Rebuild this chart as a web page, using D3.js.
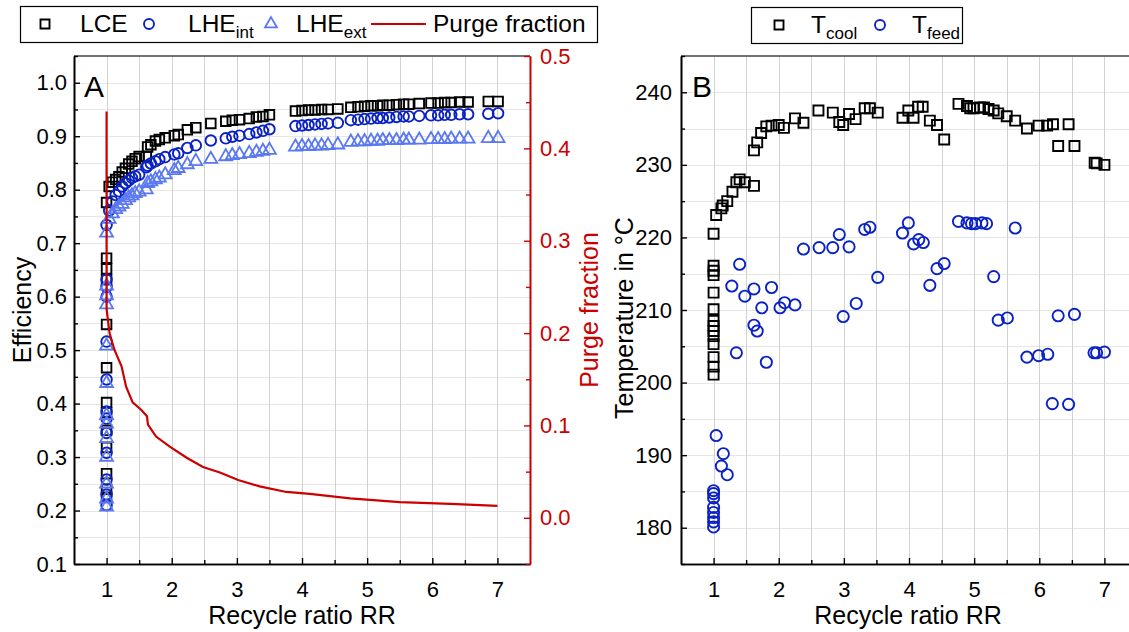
<!DOCTYPE html>
<html>
<head>
<meta charset="utf-8">
<script src="https://cdn.jsdelivr.net/npm/d3@7"></script>
<style>
  html, body { margin: 0; padding: 0; background: #fff; }
  svg { display: block; font-family: "Liberation Sans", Arial, sans-serif; }
</style>
</head>
<body>
<svg id="chart" width="1129" height="632"></svg>
<script>
// ---------- Panel A: efficiencies and purge fraction vs. recycle ratio ----------
const rrA = [
  1.0, 1.0, 1.0, 1.0, 1.0, 1.0, 1.0, 1.0, 1.0, 1.0, 1.0, 1.0,
  1.0, 1.04, 1.09, 1.14, 1.19, 1.24, 1.29, 1.34, 1.39, 1.44,
  1.5, 1.61, 1.63, 1.68, 1.75, 1.81, 1.9, 2.04, 2.1, 2.24,
  2.37, 2.6, 2.83, 2.93, 3.04, 3.19, 3.3, 3.4, 3.5, 3.9,
  4.0, 4.1, 4.2, 4.3, 4.4, 4.55, 4.75, 4.86, 4.96, 5.06,
  5.16, 5.24, 5.34, 5.45, 5.56, 5.64, 5.8, 5.98, 6.09, 6.19,
  6.29, 6.42, 6.55, 6.86, 7.01
];
const lce = [
  0.672, 0.652, 0.632, 0.548, 0.467, 0.402, 0.383, 0.350, 0.318, 0.269, 0.240, 0.225,
  0.776, 0.806, 0.814, 0.819, 0.824, 0.833, 0.840, 0.848, 0.853, 0.858,
  0.862, 0.862, 0.880, 0.884, 0.891, 0.894, 0.897, 0.901, 0.903, 0.912,
  0.916, 0.924, 0.928, 0.930, 0.931, 0.933, 0.936, 0.937, 0.940, 0.947,
  0.948, 0.949, 0.949, 0.950, 0.950, 0.951, 0.954, 0.955, 0.956, 0.957,
  0.957, 0.958, 0.958, 0.959, 0.960, 0.960, 0.961, 0.962, 0.962, 0.963,
  0.963, 0.964, 0.964, 0.965, 0.965
];
const lheInt = [
  0.632, 0.618, 0.600, 0.516, 0.445, 0.385, 0.372, 0.345, 0.308, 0.258, 0.230, 0.210,
  0.734, 0.761, 0.778, 0.790, 0.797, 0.806, 0.812, 0.817, 0.822, 0.825,
  0.828, 0.842, 0.845, 0.849, 0.853, 0.857, 0.861, 0.866, 0.868, 0.878,
  0.883, 0.892, 0.896, 0.899, 0.901, 0.904, 0.907, 0.910, 0.913, 0.919,
  0.920, 0.921, 0.922, 0.923, 0.924, 0.925, 0.930, 0.931, 0.932, 0.933,
  0.934, 0.934, 0.935, 0.936, 0.937, 0.937, 0.938, 0.939, 0.939, 0.940,
  0.940, 0.941, 0.941, 0.942, 0.943
];
const lheExt = [
  0.620, 0.602, 0.585, 0.508, 0.438, 0.378, 0.362, 0.335, 0.300, 0.250, 0.222, 0.207,
  0.719, 0.745, 0.755, 0.763, 0.768, 0.773, 0.780, 0.785, 0.789, 0.793,
  0.796, 0.800, 0.812, 0.815, 0.819, 0.822, 0.828, 0.836, 0.840, 0.847,
  0.853, 0.857, 0.862, 0.864, 0.866, 0.868, 0.870, 0.872, 0.874, 0.880,
  0.881, 0.881, 0.882, 0.882, 0.883, 0.884, 0.889, 0.890, 0.890, 0.891,
  0.891, 0.892, 0.892, 0.892, 0.893, 0.893, 0.893, 0.894, 0.894, 0.894,
  0.895, 0.895, 0.895, 0.896, 0.896
];
const purgeRR = [1.0, 1.0, 1.046, 1.12, 1.23, 1.30, 1.40, 1.53, 1.62, 1.635, 1.76, 1.97,
  2.23, 2.48, 2.74, 3.02, 3.35, 3.76, 4.12, 4.74, 5.5, 6.28, 7.0];
const purge = [0.440, 0.226, 0.200, 0.182, 0.164, 0.142, 0.125, 0.117, 0.110, 0.101, 0.088, 0.077,
  0.065, 0.055, 0.049, 0.041, 0.034, 0.028, 0.026, 0.021, 0.017, 0.015, 0.013];

// ---------- Panel B: temperatures vs. recycle ratio ----------
const coolRR = [
  1.0, 1.0, 1.0, 1.0, 1.0, 1.0, 1.0, 1.0, 1.0, 1.0, 1.0, 1.0, 1.0, 1.0,
  1.04, 1.12, 1.14, 1.21, 1.29, 1.35, 1.40, 1.48, 1.62, 1.62, 1.67, 1.73, 1.81, 1.89,
  2.0, 2.08, 2.25, 2.38, 2.61, 2.83, 2.93, 2.99, 3.08, 3.18, 3.32, 3.40, 3.52,
  3.90, 3.99, 4.07, 4.14, 4.21, 4.32, 4.43, 4.54, 4.76, 4.89, 4.94, 4.99, 5.09,
  5.15, 5.22, 5.30, 5.37, 5.50, 5.63, 5.81, 5.99, 6.12, 6.21, 6.29, 6.45, 6.54,
  6.85, 6.88, 7.0
];
const coolT = [
  220.5, 216.1, 215.4, 214.8, 212.4, 210.1, 208.5, 207.8, 207.1, 206.4, 205.3, 203.5, 202.2, 201.1,
  223.1, 224.0, 224.4, 225.0, 226.3, 227.6, 228.0, 227.6, 227.1, 232.0, 233.1, 234.4, 235.3, 235.4,
  235.5, 235.1, 236.4, 235.8, 237.5, 237.2, 235.9, 235.5, 237.0, 236.3, 237.8, 237.8, 237.2,
  236.5, 237.5, 236.5, 238.0, 238.0, 236.1, 235.5, 233.5, 238.4, 238.1, 237.8, 237.8, 237.9,
  237.9, 237.7, 237.5, 237.1, 236.7, 236.1, 235.0, 235.4, 235.4, 235.6, 232.6, 235.6, 232.6,
  230.3, 230.2, 230.0
];
const feedRR = [
  1.0, 1.0, 1.0, 1.0, 1.0, 1.0, 1.0, 1.0,
  1.04, 1.15, 1.12, 1.21, 1.28, 1.35, 1.40, 1.48, 1.62, 1.62, 1.67, 1.74, 1.81, 1.89,
  2.02, 2.09, 2.25, 2.38, 2.62, 2.83, 2.93, 2.99, 3.08, 3.19, 3.32, 3.40, 3.52,
  3.90, 3.99, 4.07, 4.15, 4.22, 4.32, 4.43, 4.54, 4.76, 4.89, 4.96, 5.02, 5.12,
  5.19, 5.30, 5.37, 5.51, 5.63, 5.81, 5.99, 6.13, 6.20, 6.29, 6.45, 6.54,
  6.84, 6.88, 7.0
];
const feedT = [
  185.1, 184.7, 184.1, 182.8, 182.1, 181.4, 180.8, 180.1,
  192.7, 190.2, 188.5, 187.3, 213.3, 204.1, 216.3, 211.9, 212.9, 207.9, 207.1, 210.3, 202.8, 213.1,
  210.3, 211.0, 210.7, 218.4, 218.6, 218.6, 220.4, 209.1, 218.7, 210.9, 221.1, 221.4, 214.5,
  220.6, 222.0, 219.1, 219.7, 219.3, 213.4, 215.7, 216.4, 222.2, 222.0, 221.9, 221.9, 222.0,
  221.9, 214.6, 208.6, 208.9, 221.3, 203.5, 203.7, 203.9, 197.1, 209.2, 197.0, 209.4,
  204.1, 204.1, 204.2
];

// Tick values
const xMajor = [1, 2, 3, 4, 5, 6, 7];
const xMinor = [1.5, 2.5, 3.5, 4.5, 5.5, 6.5];
const effMajor = [0.1, 0.2, 0.3, 0.4, 0.5, 0.6, 0.7, 0.8, 0.9, 1.0];
const effMinor = [0.15, 0.25, 0.35, 0.45, 0.55, 0.65, 0.75, 0.85, 0.95, 1.05];
const purgeMajor = [0.0, 0.1, 0.2, 0.3, 0.4, 0.5];
const purgeMinor = [-0.05, 0.05, 0.15, 0.25, 0.35, 0.45];
const tMajor = [180, 190, 200, 210, 220, 230, 240];
const tMinor = [175, 185, 195, 205, 215, 225, 235, 245];

const C_LCE = "#000000", C_INT = "#0a22c4", C_EXT = "#5a78f0", C_RED = "#cc0000";
const GRID_V = "#d2d2d2", GRID_H = "#e6e6e6";
const TICK_FS = 22;

const svg = d3.select("#chart");
svg.append("rect").attr("width", 1129).attr("height", 632).attr("fill", "#fff");

const plotTop = 56, plotBottom = 564;

// Scales
const xA = d3.scaleLinear().domain([0.5, 7.5]).range([74, 530]);
const yA = d3.scaleLinear().domain([0.1, 1.05]).range([plotBottom, plotTop]);
const yP = d3.scaleLinear().domain([-0.05, 0.5]).range([plotBottom, plotTop]);
const xB = d3.scaleLinear().domain([0.5, 7.5]).range([681, 1137]);
const yB = d3.scaleLinear().domain([175, 245]).range([plotBottom, plotTop]);

function grid(g, x, y, xs, ys) {
  g.selectAll("line.h").data(ys).join("line").attr("class", "h")
    .attr("x1", x.range()[0]).attr("x2", x.range()[1])
    .attr("y1", d => Math.round(y(d)) + 0.5).attr("y2", d => Math.round(y(d)) + 0.5)
    .attr("stroke", GRID_H).attr("stroke-width", 1);
  g.selectAll("line.v").data(xs).join("line").attr("class", "v")
    .attr("y1", plotTop).attr("y2", plotBottom)
    .attr("x1", d => Math.round(x(d)) + 0.5).attr("x2", d => Math.round(x(d)) + 0.5)
    .attr("stroke", GRID_V).attr("stroke-width", 1);
}

function styleAxis(g, color, fs) {
  g.select(".domain").attr("stroke", color).attr("stroke-width", 1.6);
  g.selectAll(".tick line").attr("stroke", color).attr("stroke-width", 1.4);
  g.selectAll(".tick text").attr("fill", color).attr("font-size", fs)
    .attr("font-family", '"Liberation Sans", Arial, sans-serif');
}

function sqPath(s) { return `M${-s/2},${-s/2}h${s}v${s}h${-s}Z`; }

// ================= Panel A =================
const gA = svg.append("g");
const xsGrid = xMajor.concat(xMinor);
grid(gA.append("g"), xA, yA, xsGrid, effMajor.concat(effMinor).filter(d => d > 0.1 && d < 1.05));

// top frame
gA.append("line").attr("x1", 74).attr("x2", 530).attr("y1", plotTop).attr("y2", plotTop)
  .attr("stroke", "#444").attr("stroke-width", 1.6);

// axes
const axA_b = gA.append("g").attr("transform", `translate(0,${plotBottom})`)
  .call(d3.axisBottom(xA).tickValues(xMajor).tickSize(-6).tickSizeOuter(0).tickPadding(17).tickFormat(d3.format("d")));
styleAxis(axA_b, "#000", TICK_FS);
const axA_bm = gA.append("g").attr("transform", `translate(0,${plotBottom})`)
  .call(d3.axisBottom(xA).tickValues(xMinor).tickSize(-4).tickSizeOuter(0).tickFormat(""));
styleAxis(axA_bm, "#000", TICK_FS);

const axA_l = gA.append("g").attr("transform", `translate(74,0)`)
  .call(d3.axisLeft(yA).tickValues(effMajor).tickSize(-6).tickSizeOuter(0).tickPadding(7).tickFormat(d3.format(".1f")));
styleAxis(axA_l, "#000", TICK_FS);
const axA_lm = gA.append("g").attr("transform", `translate(74,0)`)
  .call(d3.axisLeft(yA).tickValues(effMinor).tickSize(-4).tickSizeOuter(0).tickFormat(""));
styleAxis(axA_lm, "#000", TICK_FS);

const axA_r = gA.append("g").attr("transform", `translate(530,0)`)
  .call(d3.axisRight(yP).tickValues(purgeMajor).tickSize(-6).tickSizeOuter(0).tickPadding(10).tickFormat(d3.format(".1f")));
styleAxis(axA_r, C_RED, TICK_FS);
const axA_rm = gA.append("g").attr("transform", `translate(530,0)`)
  .call(d3.axisRight(yP).tickValues(purgeMinor).tickSize(-4).tickSizeOuter(0).tickFormat(""));
styleAxis(axA_rm, C_RED, TICK_FS);

// markers
const dataA = rrA.map((r, i) => ({ r, lce: lce[i], li: lheInt[i], le: lheExt[i] }));
gA.append("g").selectAll("path").data(dataA).join("path")
  .attr("d", sqPath(9.6))
  .attr("transform", d => `translate(${xA(d.r)},${yA(d.lce)})`)
  .attr("fill", "none").attr("stroke", C_LCE).attr("stroke-width", 1.9);
gA.append("g").selectAll("circle").data(dataA).join("circle")
  .attr("cx", d => xA(d.r)).attr("cy", d => yA(d.li)).attr("r", 5.3)
  .attr("fill", "none").attr("stroke", C_INT).attr("stroke-width", 1.9);
const tri = d3.symbol(d3.symbolTriangle).size(72);
gA.append("g").selectAll("path").data(dataA).join("path")
  .attr("d", tri)
  .attr("transform", d => `translate(${xA(d.r)},${yA(d.le)})`)
  .attr("fill", "none").attr("stroke", C_EXT).attr("stroke-width", 1.8);

// purge fraction line
const purgeData = purgeRR.map((r, i) => ({ r, p: purge[i] }));
gA.append("path").datum(purgeData)
  .attr("d", d3.line().x(d => xA(d.r)).y(d => yP(d.p)))
  .attr("fill", "none").attr("stroke", C_RED).attr("stroke-width", 2.2);

// labels
gA.append("text").attr("x", 84).attr("y", 97).attr("font-size", 30).text("A");
gA.append("text").attr("transform", "translate(31,310) rotate(-90)")
  .attr("text-anchor", "middle").attr("font-size", 25).text("Efficiency");
gA.append("text").attr("transform", "translate(598,310) rotate(-90)")
  .attr("text-anchor", "middle").attr("font-size", 25).attr("fill", C_RED).text("Purge fraction");
gA.append("text").attr("x", 302).attr("y", 624).attr("text-anchor", "middle")
  .attr("font-size", 25).text("Recycle ratio RR");

// legend A
const lgA = svg.append("g");
lgA.append("rect").attr("x", 20.5).attr("y", 6.5).attr("width", 577).attr("height", 36)
  .attr("fill", "#fff").attr("stroke", "#000").attr("stroke-width", 1.2);
lgA.append("path").attr("d", sqPath(9)).attr("transform", "translate(45,24)")
  .attr("fill", "none").attr("stroke", C_LCE).attr("stroke-width", 1.9);
lgA.append("text").attr("x", 80).attr("y", 32).attr("font-size", 24.5).text("LCE");
lgA.append("circle").attr("cx", 149).attr("cy", 24).attr("r", 5)
  .attr("fill", "none").attr("stroke", C_INT).attr("stroke-width", 1.9);
const tInt = lgA.append("text").attr("x", 188).attr("y", 32).attr("font-size", 24.5);
tInt.append("tspan").text("LHE");
tInt.append("tspan").attr("dy", 6).attr("font-size", 17).text("int");
lgA.append("path").attr("d", d3.symbol(d3.symbolTriangle).size(62)).attr("transform", "translate(271,24)")
  .attr("fill", "none").attr("stroke", C_EXT).attr("stroke-width", 1.8);
const tExt = lgA.append("text").attr("x", 296).attr("y", 32).attr("font-size", 24.5);
tExt.append("tspan").text("LHE");
tExt.append("tspan").attr("dy", 6).attr("font-size", 17).text("ext");
lgA.append("line").attr("x1", 371).attr("x2", 426).attr("y1", 24).attr("y2", 24)
  .attr("stroke", C_RED).attr("stroke-width", 2.2);
lgA.append("text").attr("x", 433).attr("y", 32).attr("font-size", 24.5).text("Purge fraction");

// ================= Panel B =================
const gB = svg.append("g");
grid(gB.append("g"), xB, yB, xsGrid, tMajor.concat(tMinor).filter(d => d > 175 && d < 245));

gB.append("line").attr("x1", 681).attr("x2", 1137).attr("y1", plotTop).attr("y2", plotTop)
  .attr("stroke", "#444").attr("stroke-width", 1.6);

const axB_b = gB.append("g").attr("transform", `translate(0,${plotBottom})`)
  .call(d3.axisBottom(xB).tickValues(xMajor).tickSize(-6).tickSizeOuter(0).tickPadding(17).tickFormat(d3.format("d")));
styleAxis(axB_b, "#000", TICK_FS);
const axB_bm = gB.append("g").attr("transform", `translate(0,${plotBottom})`)
  .call(d3.axisBottom(xB).tickValues(xMinor).tickSize(-4).tickSizeOuter(0).tickFormat(""));
styleAxis(axB_bm, "#000", TICK_FS);
const axB_l = gB.append("g").attr("transform", `translate(681,0)`)
  .call(d3.axisLeft(yB).tickValues(tMajor).tickSize(-6).tickSizeOuter(0).tickPadding(9).tickFormat(d3.format("d")));
styleAxis(axB_l, "#000", TICK_FS);
const axB_lm = gB.append("g").attr("transform", `translate(681,0)`)
  .call(d3.axisLeft(yB).tickValues(tMinor).tickSize(-4).tickSizeOuter(0).tickFormat(""));
styleAxis(axB_lm, "#000", TICK_FS);

const coolData = coolRR.map((r, i) => ({ r, t: coolT[i] }));
const feedData = feedRR.map((r, i) => ({ r, t: feedT[i] }));
gB.append("g").selectAll("path").data(coolData).join("path")
  .attr("d", sqPath(10))
  .attr("transform", d => `translate(${xB(d.r)},${yB(d.t)})`)
  .attr("fill", "none").attr("stroke", C_LCE).attr("stroke-width", 1.9);
gB.append("g").selectAll("circle").data(feedData).join("circle")
  .attr("cx", d => xB(d.r)).attr("cy", d => yB(d.t)).attr("r", 5.6)
  .attr("fill", "none").attr("stroke", C_INT).attr("stroke-width", 1.9);

gB.append("text").attr("x", 692).attr("y", 97).attr("font-size", 30).text("B");
gB.append("text").attr("transform", "translate(633,318) rotate(-90)")
  .attr("text-anchor", "middle").attr("font-size", 25).text("Temperature in °C");
gB.append("text").attr("x", 908).attr("y", 624).attr("text-anchor", "middle")
  .attr("font-size", 25).text("Recycle ratio RR");

// legend B
const lgB = svg.append("g");
lgB.append("rect").attr("x", 751.5).attr("y", 7.5).attr("width", 211).attr("height", 36)
  .attr("fill", "#fff").attr("stroke", "#000").attr("stroke-width", 1.2);
lgB.append("path").attr("d", sqPath(9)).attr("transform", "translate(779,25)")
  .attr("fill", "none").attr("stroke", C_LCE).attr("stroke-width", 1.9);
const tCool = lgB.append("text").attr("x", 811).attr("y", 33).attr("font-size", 24.5);
tCool.append("tspan").text("T");
tCool.append("tspan").attr("dy", 6).attr("font-size", 17).text("cool");
lgB.append("circle").attr("cx", 880).attr("cy", 25).attr("r", 5)
  .attr("fill", "none").attr("stroke", C_INT).attr("stroke-width", 1.9);
const tFeed = lgB.append("text").attr("x", 912).attr("y", 33).attr("font-size", 24.5);
tFeed.append("tspan").text("T");
tFeed.append("tspan").attr("dy", 6).attr("font-size", 17).text("feed");
</script>
</body>
</html>
